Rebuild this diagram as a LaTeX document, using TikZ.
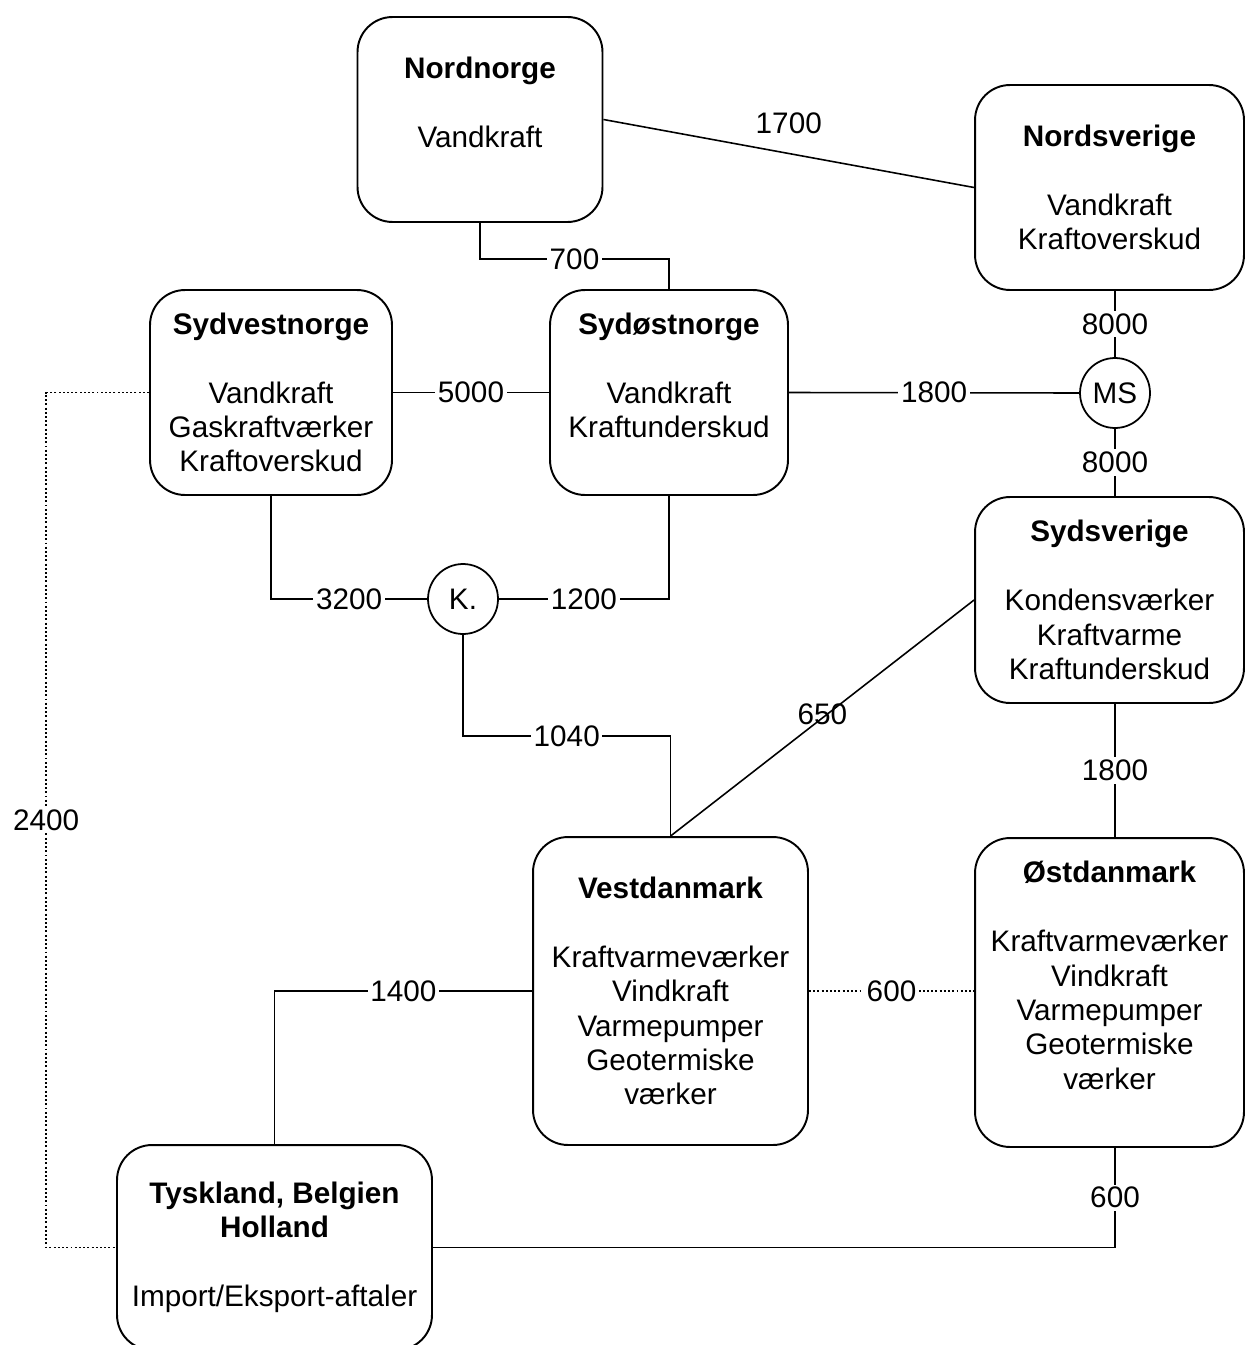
\documentclass[tikz,border=0pt]{standalone}
\usepackage{fontspec}
\setmainfont{Liberation Sans}
\begin{document}
\begin{tikzpicture}
            [
                x=0.02cm, y=-0.02cm,
                region/.style={rectangle, rounded corners=0.7cm, draw=black, line width=1.1pt, align=center, inner sep=0pt, font=\fontsize{16.9pt}{19.6pt}\selectfont},
                hub/.style={circle, draw=black, line width=1pt, minimum size=1.4cm, inner sep=0pt, font=\fontsize{16.9pt}{19.6pt}\selectfont},
                link/.style={line width=0.9pt},
                dots/.style={line width=1.1pt, dash pattern=on 1.1pt off 1.3pt},
                amount/.style={fill=white, inner sep=1.5pt, font=\fontsize{16.9pt}{19.6pt}\selectfont}
            ]
            \useasboundingbox (0,0) rectangle (1246,1345);
            % Norge
            \node[region, minimum width=4.9cm, minimum height=4.1cm] (nordnorge) at (480,119.5) {\textbf{Nordnorge}\\[19.6pt]Vandkraft\\\mbox{}};
            \node[region, minimum width=4.84cm, minimum height=4.1cm] (sydvest) at (271,392.5) {\textbf{Sydvestnorge}\\[19.6pt]Vandkraft\\Gaskraftværker\\Kraftoverskud};
            \node[region, minimum width=4.76cm, minimum height=4.1cm] (sydost) at (669,392.5) {\textbf{Sydøstnorge}\\[19.6pt]Vandkraft\\Kraftunderskud\\\mbox{}};
            % Sverige
            \node[region, minimum width=5.38cm, minimum height=4.1cm] (nordsverige) at (1109.5,187.5) {\textbf{Nordsverige}\\[19.6pt]Vandkraft\\Kraftoverskud};
            \node[region, minimum width=5.38cm, minimum height=4.12cm] (sydsverige) at (1109.5,600) {\textbf{Sydsverige}\\[19.6pt]Kondensværker\\Kraftvarme\\Kraftunderskud};
            % Danmark
            \node[region, minimum width=5.5cm, minimum height=6.16cm] (vestdk) at (670.5,991) {\textbf{Vestdanmark}\\[19.6pt]Kraftvarmeværker\\Vindkraft\\Varmepumper\\Geotermiske\\værker};
            \node[region, minimum width=5.38cm, minimum height=6.18cm] (ostdk) at (1109.5,992.5) {\textbf{Østdanmark}\\[19.6pt]Kraftvarmeværker\\Vindkraft\\Varmepumper\\Geotermiske\\værker\\\mbox{}};
            % Kontinentet
            \node[region, minimum width=6.3cm, minimum height=4.1cm] (tysk) at (274.5,1247.5) {\textbf{Tyskland, Belgien}\\\textbf{Holland}\\[19.6pt]Import/Eksport-aftaler};
            % knudepunkter
            \node[hub] (ms) at (1115,393) {MS};
            \node[hub] (kk) at (463,599) {K.};
            % forbindelser
            \draw[link] (nordnorge.east) -- node[amount, pos=.5, above=9pt, fill=none] {1700} (nordsverige.west);
            \draw[link] (nordnorge.south) -- ++(0,36) -| node[amount, pos=.25] {700} (sydost.north);
            \draw[link] (sydvest.east) -- node[amount] {5000} (sydost.west);
            \draw[link] (sydost.east) -- node[amount] {1800} (ms.west);
            \draw[link] (nordsverige.south -| ms.north) -- node[amount] {8000} (ms.north);
            \draw[link] (ms.south) -- node[amount] {8000} (sydsverige.north -| ms.south);
            \draw[link] (sydvest.south) |- node[amount, pos=.75] {3200} (kk.west);
            \draw[link] (sydost.south) |- node[amount, pos=.75] {1200} (kk.east);
            \draw[link] (kk.south) -- ++(0,101) -| node[amount, pos=.25] {1040} (vestdk.north);
            \draw[link] (sydsverige.west) -- node[amount, fill=none, pos=.5, yshift=2pt] {650} (vestdk.north);
            \draw[link] (sydsverige.south -| ms.south) -- node[amount] {1800} (ostdk.north -| ms.south);
            \draw[dots] (vestdk.east) -- node[amount] {600} (ostdk.west |- vestdk.east);
            \draw[link] (vestdk.west) -| node[amount, pos=.25] {1400} (tysk.north);
            \draw[link] (ostdk.south -| ms.south) |- node[amount, pos=.25] {600} (tysk.east);
            \draw[dots] (sydvest.west) -- ++(-103,0) |- node[amount, pos=.25] {2400} (tysk.west);
        \end{tikzpicture}
\end{document}
